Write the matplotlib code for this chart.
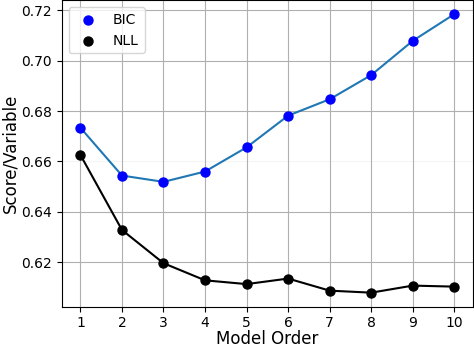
import matplotlib
matplotlib.use('Agg')
import matplotlib.pyplot as plt

model_order = [1, 2, 3, 4, 5, 6, 7, 8, 9, 10]
bic = [0.6734, 0.6544, 0.6519, 0.6560, 0.6656, 0.6782, 0.6847, 0.6943, 0.7079, 0.7185]
nll = [0.6626, 0.6328, 0.6196, 0.6128, 0.6113, 0.6135, 0.6087, 0.6079, 0.6107, 0.6103]


fig = plt.figure(figsize=(4.74, 3.46), dpi=100)
ax = fig.add_axes([0.1302, 0.1139, 0.8677, 0.8855])

ax.plot(model_order, bic, color='tab:blue', lw=1.5, zorder=2)
ax.scatter(model_order, bic, c='b', s=42, label='BIC', zorder=3)
ax.plot(model_order, nll, color='k', lw=1.5, zorder=2)
ax.scatter(model_order, nll, c='k', s=42, label='NLL', zorder=3)

ax.set_xticks(model_order)
ax.set_yticks([0.62, 0.64, 0.66, 0.68, 0.70, 0.72])
ax.set_xlabel('Model Order', fontsize=12, labelpad=0)
ax.set_ylabel('Score/Variable', fontsize=12, labelpad=1.5)
ax.legend(loc='upper left')
ax.grid()
ax.set_axisbelow(True)
# the 0.66 gridline is barely visible in the original
ax.get_ygridlines()[2].set_alpha(0.12)

fig.savefig('out.png', dpi=100)
